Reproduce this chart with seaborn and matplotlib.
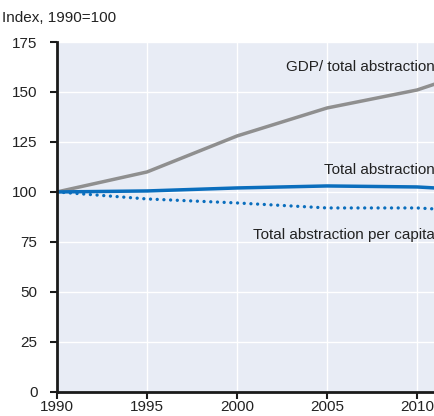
import numpy as np
import pandas as pd
import matplotlib
matplotlib.use("Agg")
import matplotlib.pyplot as plt
import seaborn as sns

# Values (index, 1990=100)
years = [1990, 1995, 2000, 2005, 2010, 2011]
gdp_per_abstraction = [100, 110, 128, 142, 151, 154]
total_abstraction = [100, 100.5, 102, 103, 102.5, 102]
abstraction_per_capita = [100, 96.5, 94.5, 92, 92, 91.5]

df = pd.DataFrame({
    "year": years,
    "GDP/ total abstraction": gdp_per_abstraction,
    "Total abstraction": total_abstraction,
    "Total abstraction per capita": abstraction_per_capita,
})

sns.set_theme(style="darkgrid", rc={
    "axes.facecolor": "#e8ecf5",
    "figure.facecolor": "white",
    "grid.color": "white",
    "grid.linewidth": 1.0,
})
plt.rcParams["font.family"] = ["Liberation Sans", "DejaVu Sans"]

fs = 11
fig = plt.figure(figsize=(4.35, 4.16), dpi=100)
ax = fig.add_axes([0.131, 0.058, 0.869, 0.841])

grey = "#8f8f8f"
blue = "#0a6ebd"

sns.lineplot(data=df, x="year", y="GDP/ total abstraction", ax=ax,
             color=grey, linewidth=2.5)
sns.lineplot(data=df, x="year", y="Total abstraction", ax=ax,
             color=blue, linewidth=2.5)
sns.lineplot(data=df, x="year", y="Total abstraction per capita", ax=ax,
             color=blue, linewidth=2.4, linestyle=(0, (0.01, 2.0)),
             dash_capstyle="round")

ax.set_xlim(1990, 2011)
ax.set_ylim(0, 175)
ax.set_xticks([1990, 1995, 2000, 2005, 2010])
ax.set_yticks(range(0, 176, 25))
ax.set_xlabel("")
ax.set_ylabel("")

for side in ["top", "right"]:
    ax.spines[side].set_visible(False)
for side in ["left", "bottom"]:
    ax.spines[side].set_visible(True)
    ax.spines[side].set_color("#1a1a1a")
    ax.spines[side].set_linewidth(2)
ax.tick_params(axis="both", which="both", direction="out", length=5, width=1.5,
               color="#1a1a1a", labelsize=fs, labelcolor="#222222",
               bottom=True, left=True)
ax.tick_params(axis="y", pad=9)
ax.tick_params(axis="x", pad=1)

# series labels
ax.text(2011, 162.5, "GDP/ total abstraction", ha="right", va="center",
        fontsize=fs, color="#222222")
ax.text(2011, 111, "Total abstraction", ha="right", va="center",
        fontsize=fs, color="#222222")
ax.text(2011, 78.5, "Total abstraction per capita", ha="right", va="center",
        fontsize=fs, color="#222222")

fig.text(0.005, 0.957, "Index, 1990=100", ha="left", va="center",
         fontsize=fs, color="#222222")

fig.savefig("out.png", dpi=100)
